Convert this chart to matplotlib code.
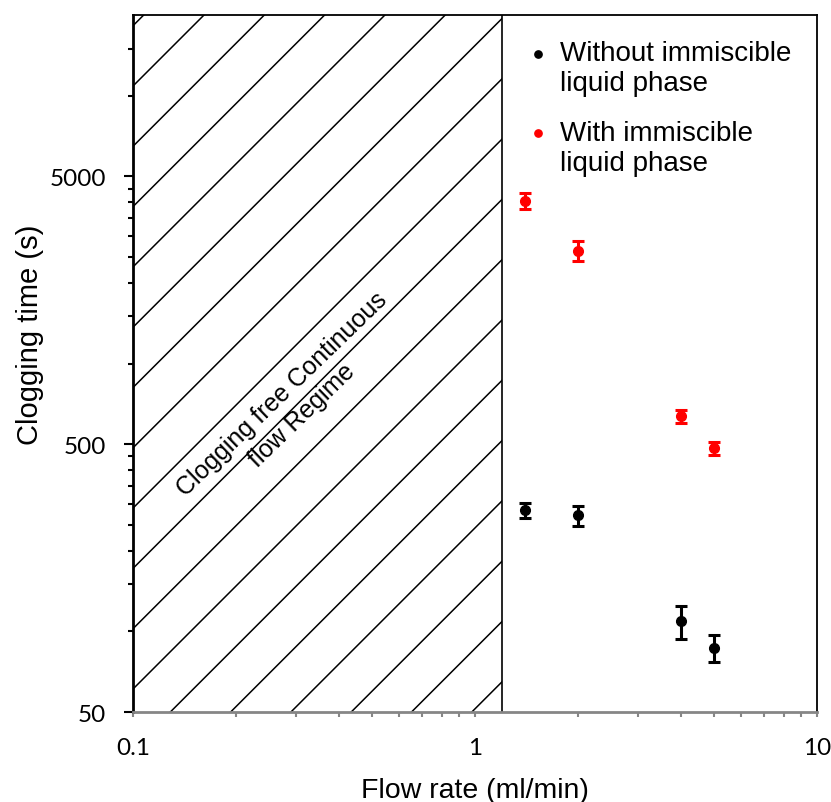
import numpy as np
import matplotlib.pyplot as plt
from matplotlib.ticker import FixedLocator, NullFormatter, FixedFormatter, LogLocator
from matplotlib.legend_handler import HandlerLine2D

# Datos
caudal = [1.4, 2, 4, 5]
sin_fase = [283, 271, 109, 87]
err_sin_fase = [19, 24, 15, 10]
con_fase = [4050, 2640, 637, 483]
err_con_fase = [290, 220, 36, 27]

ticks_y = [50, 500, 5000]
ticks_x = [0.1, 1, 10]
limite_regimen = 1.2

fuente_txt = 'Liberation Sans'
fuente_ticks = 'Lato'

fig = plt.figure(figsize=(8.31, 8.03), dpi=100)
ax = fig.add_axes([0.160, 0.112, 0.823, 0.868])

ax.set_xscale('log')
ax.set_yscale('log')
ax.set_xlim(0.1, 10)
ax.set_ylim(50, 20000)

# Zona rayada (regimen sin obstruccion)
zona = ax.axvspan(0.1, limite_regimen, facecolor='none', edgecolor='none')
ax.axvline(limite_regimen, color='black', lw=1.2)

# Lineas a 45 grados en pixeles, separacion ~60 px
ancho = fig.get_figwidth() * fig.dpi * 0.823
alto = fig.get_figheight() * fig.dpi * 0.868
paso = 60.3 / alto
y0 = (713 - 87) / alto
xs = np.array([0, 1])
for k in range(-3, 25):
    b = y0 - k * paso
    ln, = ax.plot(xs, b + xs * ancho / alto, color='black', lw=1.1,
                  transform=ax.transAxes)
    ln.set_clip_path(zona)

ax.text(0.292, 706, 'Clogging free Continuous\nflow Regime', rotation=44,
        rotation_mode='anchor', ha='center', va='center', multialignment='center',
        fontsize=18, family=fuente_txt, linespacing=1.25)

# Datos
ax.errorbar(caudal, sin_fase, yerr=err_sin_fase, fmt='none', ecolor='black',
            elinewidth=2.2, capsize=4.5, capthick=2.2)
ax.errorbar(caudal, con_fase, yerr=err_con_fase, fmt='none', ecolor='red',
            elinewidth=2.2, capsize=4.5, capthick=2.2)
ax.plot(caudal, sin_fase, 'o', color='black', ms=7, label='Without immiscible\nliquid phase')
ax.plot(caudal, con_fase, 'o', color='red', ms=7, label='With immiscible\nliquid phase')


# el punto de la leyenda va a la altura de la primera linea
def subir_punto(handle, orig):
    handle.update_from(orig)
    handle.set_ydata(np.asarray(handle.get_ydata()) + 10.5)


leg = ax.legend(loc='upper right', bbox_to_anchor=(1.0, 1.0), frameon=False,
                prop={'family': fuente_txt, 'size': 20}, markerscale=0.75,
                handlelength=0.6, handletextpad=0.5, labelspacing=0.85,
                handler_map={plt.Line2D: HandlerLine2D(update_func=subir_punto)})

# Ejes
ax.yaxis.set_major_locator(FixedLocator(ticks_y))
ax.yaxis.set_major_formatter(FixedFormatter([str(t) for t in ticks_y]))
menores_y = [50 * m * 10 ** n for n in range(3) for m in range(2, 10) if 50 * m * 10 ** n < 20000]
ax.yaxis.set_minor_locator(FixedLocator(menores_y))
ax.yaxis.set_minor_formatter(NullFormatter())

ax.xaxis.set_major_locator(FixedLocator(ticks_x))
ax.xaxis.set_major_formatter(FixedFormatter(['0.1', '1', '10']))
ax.xaxis.set_minor_locator(LogLocator(base=10, subs=np.arange(2, 10)))
ax.xaxis.set_minor_formatter(NullFormatter())

ax.tick_params(axis='y', which='major', direction='out', length=6.3, width=1.5,
               color='black', pad=13, labelsize=17.5)
ax.tick_params(axis='y', which='minor', direction='out', length=3.6, width=1.5, color='black')
ax.tick_params(axis='x', which='both', direction='out', length=3.6, width=1.5,
               color='#868686', pad=14, labelsize=17.5)
for lab in ax.get_xticklabels() + ax.get_yticklabels():
    lab.set_family(fuente_ticks)

ax.spines['left'].set_linewidth(2)
ax.spines['bottom'].set_linewidth(2)
ax.spines['bottom'].set_color('#868686')
ax.spines['top'].set_linewidth(1.3)
ax.spines['right'].set_linewidth(1.3)

ax.set_xlabel('Flow rate (ml/min)', family=fuente_txt, fontsize=20.5)
ax.set_ylabel('Clogging time (s)', family=fuente_txt, fontsize=21, va='center')
ax.xaxis.set_label_coords(0.5, -0.093)
ax.yaxis.set_label_coords(-0.151, 0.542)

fig.savefig('out.png', dpi=100)
